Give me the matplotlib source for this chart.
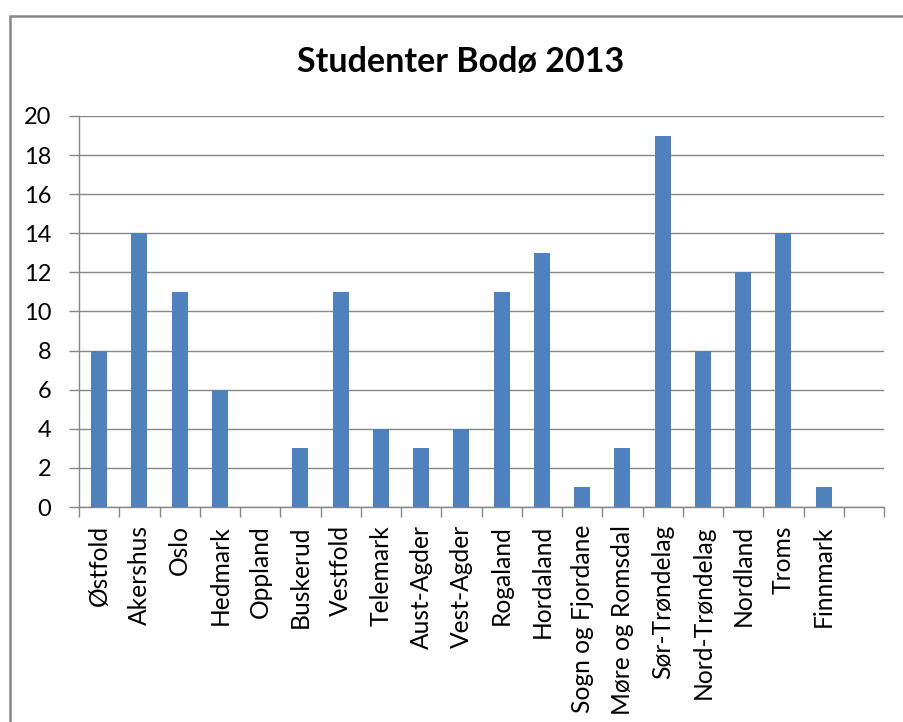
import matplotlib
matplotlib.use("Agg")
import matplotlib.pyplot as plt
from matplotlib.patches import Rectangle
import numpy as np

# fylker og antall studenter
fylker = ['Østfold', 'Akershus', 'Oslo', 'Hedmark', 'Oppland', 'Buskerud',
          'Vestfold', 'Telemark', 'Aust-Agder', 'Vest-Agder', 'Rogaland',
          'Hordaland', 'Sogn og Fjordane', 'Møre og Romsdal', 'Sør-Trøndelag',
          'Nord-Trøndelag', 'Nordland', 'Troms', 'Finnmark', '']
antall = [8, 14, 11, 6, 0, 3, 11, 4, 3, 4, 11, 13, 1, 3, 19, 8, 12, 14, 1, 0]
y_ticks = [0, 2, 4, 6, 8, 10, 12, 14, 16, 18, 20]

plt.rcParams['font.family'] = ['Lato', 'DejaVu Sans']
W, H = 904, 722
fig = plt.figure(figsize=(W / 100, H / 100), dpi=100)

# chart frame (runs off the right and bottom)
fig.patches.append(Rectangle((10 / W, -0.05), 1.2, 1 - 16 / H + 0.05,
                             transform=fig.transFigure, fill=False,
                             edgecolor='#868686', lw=1.8))

ax = fig.add_axes([79 / W, 1 - 507 / H, (884 - 79) / W, (507 - 116) / H])
x = np.arange(len(fylker))
ax.bar(x, antall, width=0.4, color='#4F81BD', zorder=3)

ax.set_xlim(-0.5, len(fylker) - 0.5)
ax.set_ylim(0, 20)
ax.set_yticks(y_ticks)
ax.yaxis.grid(True, color='#868686', lw=1.0, zorder=0)
ax.set_xticks(x)
ax.set_xticklabels(fylker, rotation=90, fontsize=17.7)
ax.set_xticks(np.arange(-0.5, len(fylker)), minor=True)
ax.tick_params(axis='x', which='major', length=0, pad=13)
ax.tick_params(axis='x', which='minor', length=7, color='#868686', width=1)
ax.tick_params(axis='y', length=7, color='#868686', width=1, labelsize=17, pad=13)

for s in ['top', 'right']:
    ax.spines[s].set_visible(False)
for s in ['left', 'bottom']:
    ax.spines[s].set_color('#868686')
    ax.spines[s].set_linewidth(1.0)

fig.text(461 / W, 1 - 62 / H, 'Studenter Bodø 2013', ha='center', va='center',
         fontsize=24.5, fontweight='bold')

fig.savefig('out.png', dpi=100)
